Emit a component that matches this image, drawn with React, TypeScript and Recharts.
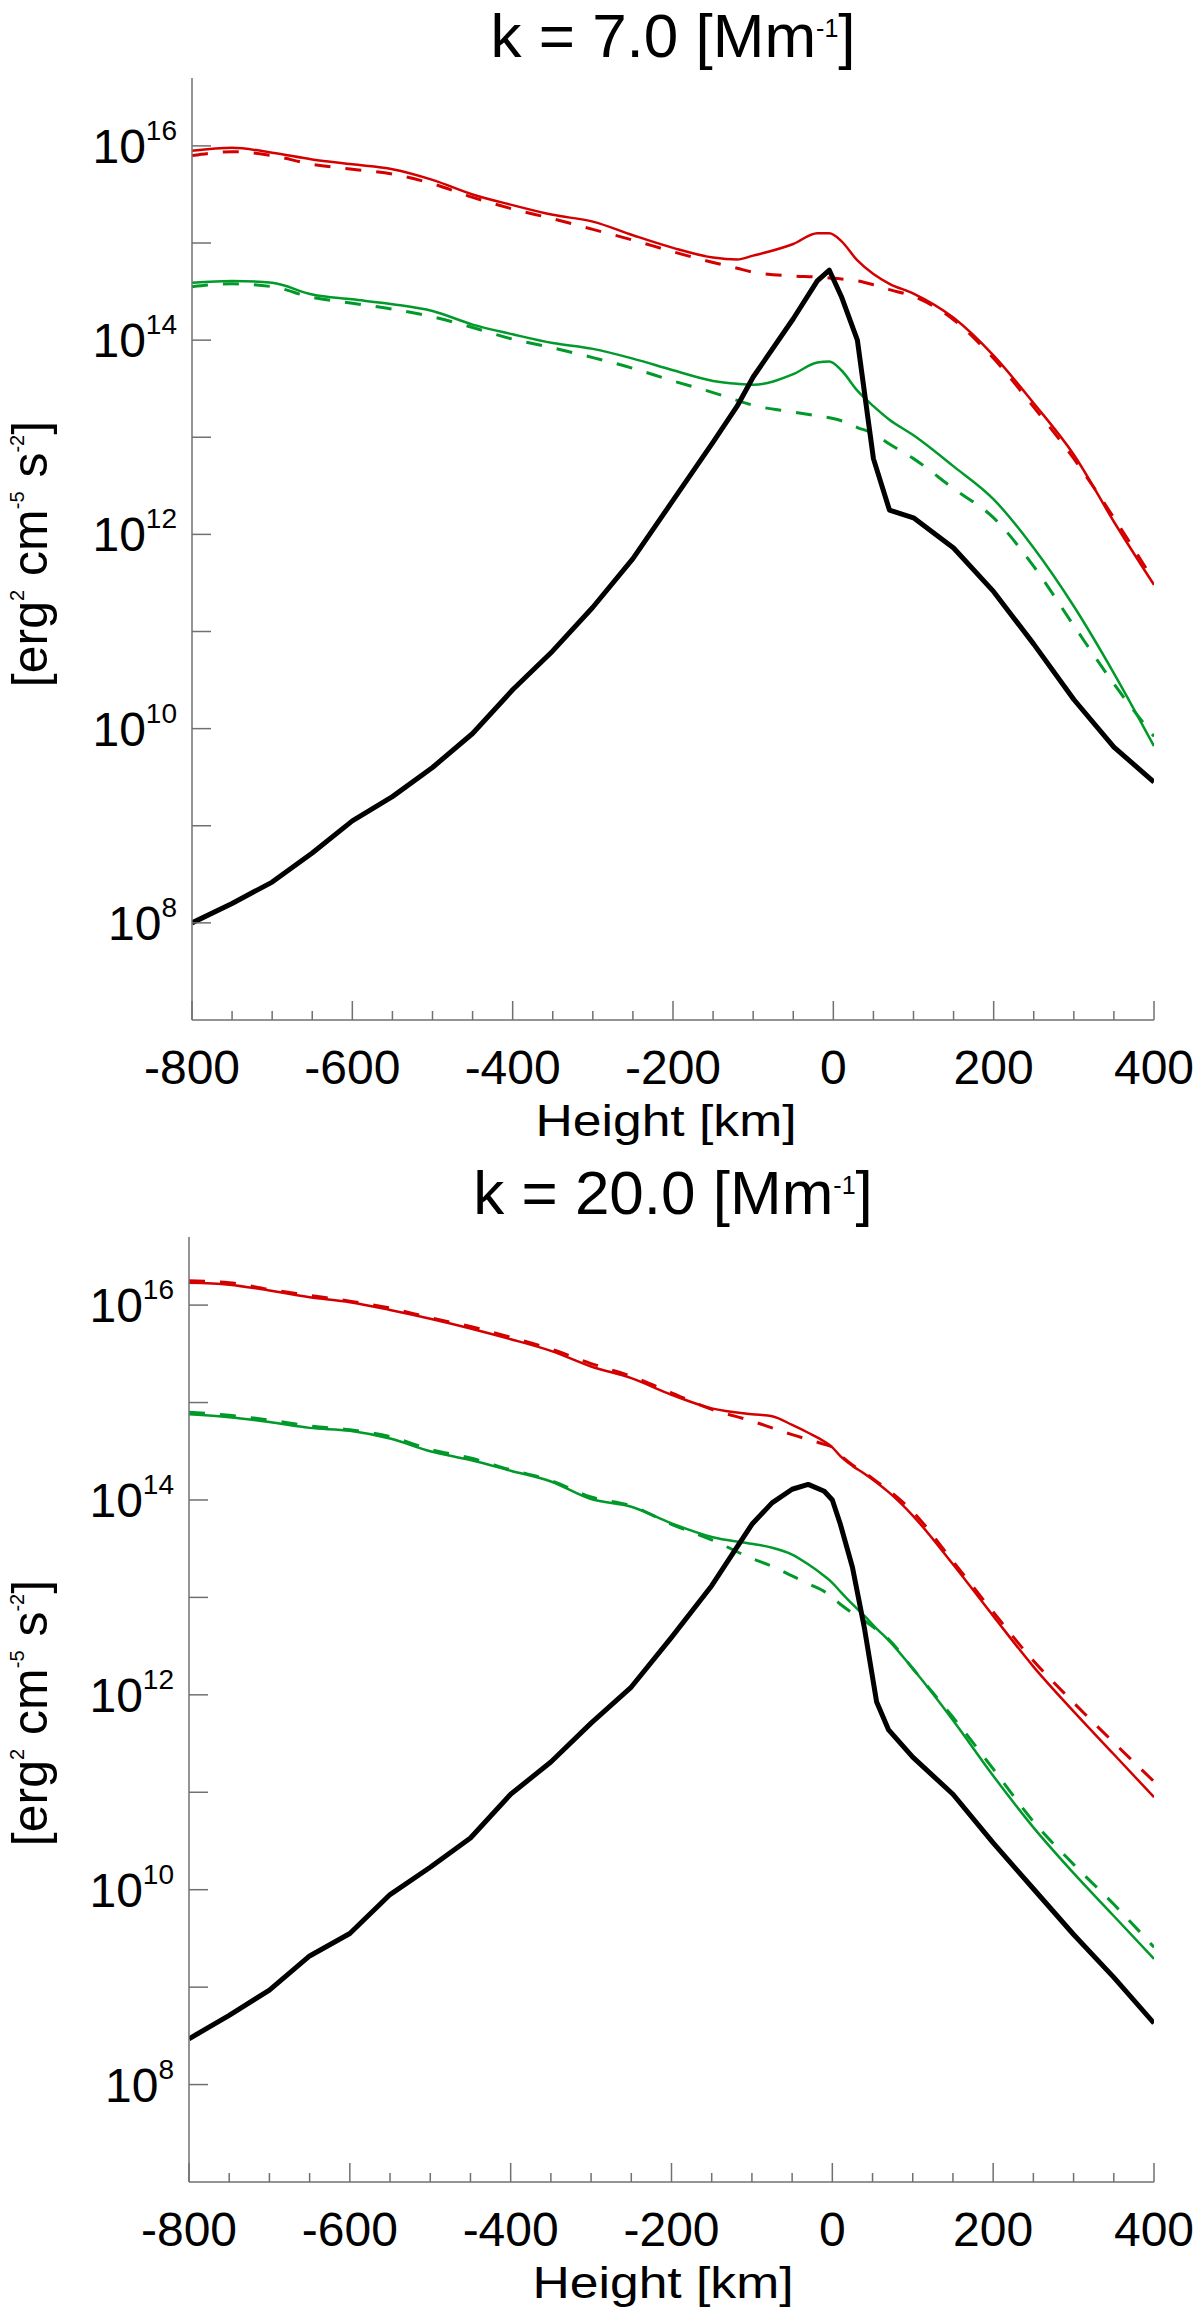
import React from "react";
import { LineChart, Line, XAxis, YAxis } from "recharts";

// heights [km] and log10 of the flux values
const heights7 = [-800, -750, -700, -650, -600, -550, -500, -450, -400, -350, -300, -250, -200, -150, -120, -100, -50, -20, -5, 10, 30, 50, 70, 100, 150, 200, 250, 300, 350, 400];
const red7Solid = [15.95, 15.98, 15.93, 15.86, 15.81, 15.76, 15.65, 15.5, 15.39, 15.29, 15.22, 15.08, 14.95, 14.85, 14.83, 14.87, 14.99, 15.1, 15.1, 15.02, 14.82, 14.68, 14.58, 14.48, 14.23, 13.84, 13.35, 12.82, 12.13, 11.48];
const red7Dashed = [15.9, 15.94, 15.9, 15.81, 15.76, 15.71, 15.61, 15.47, 15.35, 15.25, 15.14, 15.03, 14.91, 14.8, 14.74, 14.7, 14.66, 14.65, 14.64, 14.63, 14.61, 14.57, 14.52, 14.45, 14.21, 13.81, 13.31, 12.78, 12.17, 11.52];
const green7Solid = [14.59, 14.61, 14.59, 14.47, 14.42, 14.37, 14.3, 14.16, 14.06, 13.97, 13.91, 13.81, 13.69, 13.58, 13.55, 13.54, 13.65, 13.77, 13.78, 13.69, 13.48, 13.32, 13.18, 13.02, 12.7, 12.36, 11.86, 11.26, 10.57, 9.82];
const green7Dashed = [14.55, 14.58, 14.55, 14.44, 14.38, 14.32, 14.24, 14.13, 14.01, 13.92, 13.82, 13.71, 13.58, 13.46, 13.38, 13.33, 13.26, 13.22, 13.2, 13.17, 13.1, 13.04, 12.93, 12.78, 12.47, 12.17, 11.67, 11.06, 10.46, 9.92];
const black7 = [8.0, 8.2, 8.42, 8.72, 9.05, 9.3, 9.6, 9.95, 10.4, 10.8, 11.25, 11.75, 12.35, 12.95, 13.32, 13.62, 14.22, 14.61, 14.72, 14.45, 14.0, 12.78, 12.25, 12.17, 11.86, 11.41, 10.87, 10.3, 9.81, 9.45];

const heights20 = [-800, -750, -700, -650, -600, -550, -500, -450, -400, -350, -300, -250, -200, -150, -100, -75, -50, -30, -10, 0, 10, 25, 40, 55, 70, 100, 150, 200, 250, 300, 350, 400];
const red20Solid = [16.23, 16.21, 16.15, 16.08, 16.03, 15.95, 15.86, 15.76, 15.65, 15.53, 15.37, 15.25, 15.08, 14.94, 14.88, 14.86, 14.77, 14.69, 14.6, 14.54, 14.45, 14.35, 14.27, 14.18, 14.08, 13.84, 13.34, 12.81, 12.29, 11.83, 11.39, 10.95];
const red20Dashed = [16.25, 16.23, 16.16, 16.1, 16.04, 15.97, 15.87, 15.78, 15.67, 15.55, 15.4, 15.27, 15.1, 14.93, 14.81, 14.74, 14.67, 14.62, 14.57, 14.54, 14.46, 14.36, 14.28, 14.19, 14.1, 13.88, 13.37, 12.85, 12.35, 11.92, 11.51, 11.11];
const green20Solid = [14.88, 14.85, 14.8, 14.74, 14.71, 14.63, 14.5, 14.41, 14.3, 14.19, 14.01, 13.93, 13.76, 13.62, 13.55, 13.51, 13.44, 13.34, 13.22, 13.15, 13.06, 12.93, 12.81, 12.68, 12.56, 12.27, 11.74, 11.17, 10.64, 10.17, 9.73, 9.29];
const green20Dashed = [14.9, 14.87, 14.82, 14.76, 14.72, 14.65, 14.52, 14.43, 14.31, 14.2, 14.03, 13.94, 13.75, 13.59, 13.4, 13.32, 13.22, 13.14, 13.06, 13.0, 12.93, 12.84, 12.76, 12.67, 12.57, 12.27, 11.77, 11.24, 10.7, 10.26, 9.85, 9.41];
const black20 = [8.47, 8.71, 8.97, 9.32, 9.55, 9.95, 10.23, 10.53, 10.98, 11.31, 11.71, 12.08, 12.59, 13.12, 13.75, 13.97, 14.11, 14.16, 14.09, 14.0, 13.75, 13.31, 12.68, 11.93, 11.64, 11.36, 10.98, 10.48, 10.01, 9.54, 9.1, 8.63];

const xTicks = [-800, -750, -700, -650, -600, -550, -500, -450, -400, -350, -300, -250, -200, -150, -100, -50, 0, 50, 100, 150, 200, 250, 300, 350, 400];
const yTicks = [1e8, 1e9, 1e10, 1e11, 1e12, 1e13, 1e14, 1e15, 1e16];

const RED = "#d40000";
const GREEN = "#00992a";
const AXIS = "#707070";
const FONT = "'Liberation Sans', Arial, sans-serif";

function buildRows(h, rs, rd, gs, gd, b) {
  return h.map((x, i) => ({
    h: x,
    rs: Math.pow(10, rs[i]),
    rd: Math.pow(10, rd[i]),
    gs: Math.pow(10, gs[i]),
    gd: Math.pow(10, gd[i]),
    b: Math.pow(10, b[i]),
  }));
}

const BottomTick = ({ x, y, payload }) => {
  const major = payload.value % 200 === 0;
  return (
    <g>
      <line x1={x} x2={x} y1={y} y2={y - (major ? 19 : 9)} stroke={AXIS} strokeWidth={1.5} />
      {major && (
        <text x={x} y={y + 64} textAnchor="middle" fontSize={48} fill="#000" fontFamily={FONT}>
          {payload.value}
        </text>
      )}
    </g>
  );
};

const TopTick = ({ x, y, payload }) => {
  const major = payload.value % 200 === 0;
  return <line x1={x} x2={x} y1={y} y2={y + (major ? 19 : 9)} stroke={AXIS} strokeWidth={1.5} />;
};

const LeftTick = ({ x, y, payload }) => {
  const exp = Math.round(Math.log10(payload.value));
  return (
    <g>
      <line x1={x} x2={x + 19} y1={y} y2={y} stroke={AXIS} strokeWidth={1.5} />
      {exp % 2 === 0 && (
        <text x={x - 15} y={y + 17} textAnchor="end" fontSize={48} fill="#000" fontFamily={FONT}>
          10<tspan dy={-23} fontSize={28}>{exp}</tspan>
        </text>
      )}
    </g>
  );
};

const RightTick = ({ x, y }) => (
  <line x1={x} x2={x - 19} y1={y} y2={y} stroke={AXIS} strokeWidth={1.5} />
);

function Panel({ k, rows, plotLeft, plotTop, plotBottom, titleY }) {
  const H = 1158;
  return (
    <div style={{ position: "relative", width: 1200, height: H }}>
      <LineChart
        width={1200}
        height={H}
        data={rows}
        margin={{ top: plotTop, right: 46, bottom: 0, left: 0 }}
      >
        <XAxis
          dataKey="h"
          type="number"
          domain={[-800, 400]}
          ticks={xTicks}
          interval={0}
          allowDataOverflow
          height={H - plotBottom}
          tickSize={0}
          tickMargin={0}
          tickLine={false}
          axisLine={{ stroke: AXIS, strokeWidth: 1.5 }}
          tick={(p) => <BottomTick {...p} />}
        />
        <XAxis
          xAxisId="top"
          orientation="top"
          dataKey="h"
          type="number"
          domain={[-800, 400]}
          ticks={xTicks}
          interval={0}
          allowDataOverflow
          height={0}
          tickSize={0}
          tickMargin={0}
          tickLine={false}
          axisLine={{ stroke: AXIS, strokeWidth: 1.5 }}
          tick={(p) => <TopTick {...p} />}
        />
        <YAxis
          type="number"
          scale="log"
          domain={[1e7, 5e16]}
          ticks={yTicks}
          interval={0}
          allowDataOverflow
          width={plotLeft}
          tickSize={0}
          tickMargin={0}
          tickLine={false}
          axisLine={{ stroke: AXIS, strokeWidth: 1.5 }}
          tick={(p) => <LeftTick {...p} />}
        />
        <YAxis
          yAxisId="right"
          orientation="right"
          type="number"
          scale="log"
          domain={[1e7, 5e16]}
          ticks={yTicks}
          interval={0}
          allowDataOverflow
          width={0}
          tickSize={0}
          tickMargin={0}
          tickLine={false}
          axisLine={{ stroke: AXIS, strokeWidth: 1.5 }}
          tick={(p) => <RightTick {...p} />}
        />
        <Line xAxisId="top" yAxisId="right" dataKey="b" stroke="none" dot={false} isAnimationActive={false} />
        <Line type="monotone" dataKey="rd" stroke={RED} strokeWidth={3} strokeDasharray="16 15" dot={false} isAnimationActive={false} />
        <Line type="monotone" dataKey="rs" stroke={RED} strokeWidth={2.5} dot={false} isAnimationActive={false} />
        <Line type="monotone" dataKey="gd" stroke={GREEN} strokeWidth={3} strokeDasharray="16 15" dot={false} isAnimationActive={false} />
        <Line type="monotone" dataKey="gs" stroke={GREEN} strokeWidth={2.5} dot={false} isAnimationActive={false} />
        <Line type="linear" dataKey="b" stroke="#000" strokeWidth={5} strokeLinejoin="round" dot={false} isAnimationActive={false} />
      </LineChart>
      <svg
        width={1200}
        height={H}
        style={{ position: "absolute", left: 0, top: 0, pointerEvents: "none", overflow: "visible" }}
        fontFamily={FONT}
      >
        <text x={673} y={titleY} textAnchor="middle" fontSize={62} fill="#000">
          k = {k} [Mm<tspan dy={-20} fontSize={25}>-1</tspan>
          <tspan dy={20}>]</tspan>
        </text>
        <text
          x={plotLeft + 474}
          y={plotBottom + 116}
          textAnchor="middle"
          fontSize={44}
          fill="#000"
          textLength={261}
          lengthAdjust="spacingAndGlyphs"
        >
          Height [km]
        </text>
        <text
          transform={`translate(47,${plotTop + 476}) rotate(-90)`}
          textAnchor="middle"
          fontSize={50}
          fill="#000"
        >
          [erg<tspan dy={-23} fontSize={20}>2</tspan>
          <tspan dy={23}> cm</tspan>
          <tspan dy={-23} fontSize={20}>-5</tspan>
          <tspan dy={23}> s</tspan>
          <tspan dy={-23} fontSize={20}>-2</tspan>
          <tspan dy={23}>]</tspan>
        </text>
      </svg>
    </div>
  );
}

const rows7 = buildRows(heights7, red7Solid, red7Dashed, green7Solid, green7Dashed, black7);
const rows20 = buildRows(heights20, red20Solid, red20Dashed, green20Solid, green20Dashed, black20);

export default function App() {
  return (
    <div style={{ position: "absolute", left: 0, top: 0, width: 1200, height: 2316, background: "#fff", fontFamily: FONT }}>
      <Panel k="7.0" rows={rows7} plotLeft={192} plotTop={78} plotBottom={1020} titleY={57} />
      <Panel k="20.0" rows={rows20} plotLeft={189} plotTop={79} plotBottom={1024} titleY={56} />
    </div>
  );
}
